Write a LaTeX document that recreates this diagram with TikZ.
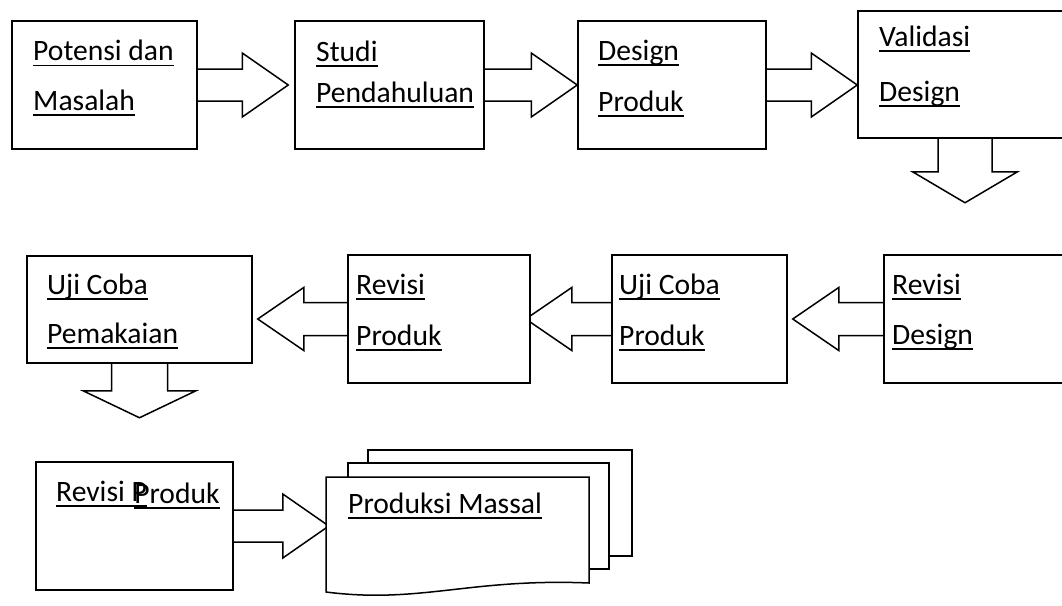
\documentclass[tikz,border=0pt]{standalone}
\usepackage{fontspec}
\setmainfont{Carlito}
\usetikzlibrary{calc,fit,backgrounds}
\tikzset{
  box/.style={draw=black, line width=1.5pt, fill=white, inner sep=0pt, rectangle},
  blk/.style={draw=black, line width=1.5pt, fill=white, line join=miter},
  lbl/.style={anchor=base west, inner sep=0pt, font=\fontsize{29.6}{35}\selectfont, text=black},
  ul/.style={line width=1.7pt, draw=black},
}
% underlined label: name, position, text
\newcommand\utext[3]{%
  \node[lbl] (#1) at (#2) {#3};
  \draw[ul] ([yshift=-4.7pt]#1.base west) -- ([yshift=-4.7pt]#1.base east);}
% right block arrow: from node #1 (east) to tip coordinate #2
\newcommand\arrR[2]{%
  \draw[blk] ($(#1.east)+(-4,-16)$) -- ($(#1.east -| #2)+(-46,-16)$) -- ($(#1.east -| #2)+(-46,-32)$)
    -- (#1.east -| #2) -- ($(#1.east -| #2)+(-46,32)$) -- ($(#1.east -| #2)+(-46,16)$)
    -- ($(#1.east)+(-4,16)$) -- cycle;}
% left block arrow: from node #1 (west) to tip coordinate #2
\newcommand\arrL[2]{%
  \draw[blk] ($(#1.west)+(4,-16.5)$) -- ($(#1.west -| #2)+(46,-16.5)$) -- ($(#1.west -| #2)+(46,-31.5)$)
    -- (#1.west -| #2) -- ($(#1.west -| #2)+(46,31.5)$) -- ($(#1.west -| #2)+(46,16.5)$)
    -- ($(#1.west)+(4,16.5)$) -- cycle;}
% down block arrow: from node #1 (south) to tip #2; shaft half #3, head half #4, head length #5
\newcommand\arrD[5]{%
  \draw[blk] ($(#1.south)+(-#3,-4)$) -- ($(#1.south |- #2)+(-#3,-#5)$) -- ($(#1.south |- #2)+(-#4,-#5)$)
    -- (#1.south |- #2) -- ($(#1.south |- #2)+(#4,-#5)$) -- ($(#1.south |- #2)+(#3,-#5)$)
    -- ($(#1.south)+(#3,-4)$) -- cycle;}
\begin{document}
\begin{tikzpicture}[x=1pt,y=-1pt]
\useasboundingbox (0,0) rectangle (1062,605);
\clip (0,0) rectangle (1062,605);

% ---- row 1 boxes
\node[box, fit={(12,21) (197,149)}] (b1) {};
\node[box, fit={(295,21) (484,149)}] (b2) {};
\node[box, fit={(578,21) (766,149)}] (b3) {};
\node[box, fit={(858,11) (1072,138)}] (b4) {};
% ---- row 2 boxes
\node[box, fit={(27,256) (252,363)}] (c1) {};
\node[box, fit={(348,255) (530,383)}] (c2) {};
\node[box, fit={(612,255) (787,383)}] (c3) {};
\node[box, fit={(884,255) (1075,383)}] (c4) {};
% ---- row 3
\node[box, fit={(36,462) (233,590)}] (e1) {};
\node[inner sep=0pt, fit={(326,477) (589,593)}] (d1) {};
\draw[box] (368,450) rectangle (632,556);
\draw[box] (348,463) rectangle (609,569);
\draw[blk] (326,477) -- (589,477) -- (589,583) .. controls (470,578) and (420,604) .. (326,592) -- cycle;

% ---- labels
\utext{t1a}{33,60.7}{Potensi dan}
\utext{t1b}{33,110.5}{Masalah}
\utext{t2a}{316,61.3}{Studi}
\utext{t2b}{316,102.6}{Pendahuluan}
\utext{t3a}{598,60.5}{Design}
\utext{t3b}{598,111.3}{Produk}
\utext{t4a}{879,46}{Validasi}
\utext{t4b}{879,101.5}{Design}
\utext{u1a}{47,294.5}{Uji Coba}
\utext{u1b}{47,343.5}{Pemakaian}
\utext{u2a}{356,294.5}{Revisi}
\utext{u2b}{356,345.3}{Produk}
\utext{u3a}{619,294.5}{Uji Coba}
\utext{u3b}{619,345.3}{Produk}
\utext{u4a}{892,294.5}{Revisi}
\utext{u4b}{892,344.5}{Design}
\utext{v1a}{56,501.3}{Revisi P}
\node[lbl] (v1b) at ([xshift=-13pt,yshift=-1.7pt]v1a.base east) {Produk};
\draw[ul] ([yshift=-4.7pt]v1b.base west) -- ([yshift=-4.7pt]v1b.base east);
\utext{v2}{348,513.5}{Produksi Massal}

% ---- tips of the block arrows
\coordinate (a1) at ($(b2.west)+(-6,0)$);
\coordinate (a4) at ($(b4.south)+(0,64)$);
\coordinate (ac3) at ($(c3.east)+(5,0)$);
\coordinate (ac2) at ($(c2.east)+(-5,0)$);
\coordinate (ac1) at ($(c1.east)+(5,0)$);
\coordinate (ad1) at ($(c1.south)+(0,54)$);
\coordinate (ae1) at ($(d1.west)+(3,0)$);

\begin{pgfonlayer}{background}
  \fill[white] (0,0) rectangle (1062,605);
  \arrR{b1}{a1}
  \arrR{b2}{b3.west}
  \arrR{b3}{b4.west}
  \arrD{b4}{a4}{27}{52.5}{31}
  \arrL{c4}{ac3}
  \arrL{c3}{ac2}
  \arrL{c2}{ac1}
  \arrD{c1}{ad1}{28}{56.5}{27}
  \arrR{e1}{ae1}
\end{pgfonlayer}
\end{tikzpicture}
\end{document}
